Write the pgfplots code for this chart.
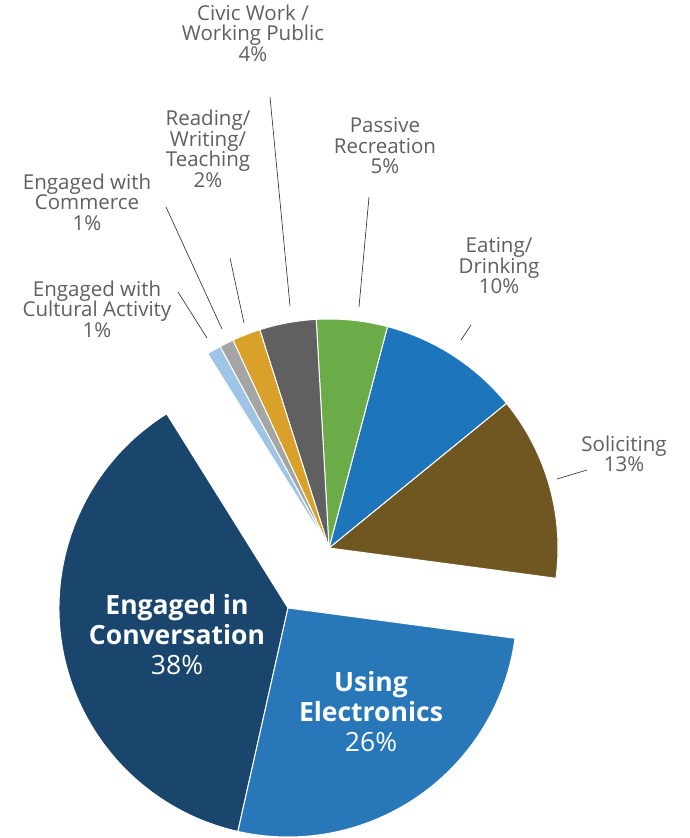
\documentclass[border=0pt]{standalone}
\usepackage{pgfplots}
\pgfplotsset{compat=1.18}
\usepackage{fontspec}
\setmainfont{Open Sans}
\definecolor{cConv}{RGB}{26,70,110}
\definecolor{cElec}{RGB}{40,120,185}
\definecolor{cSol}{RGB}{112,87,34}
\definecolor{cEat}{RGB}{29,117,187}
\definecolor{cPas}{RGB}{107,172,72}
\definecolor{cCiv}{RGB}{96,96,96}
\definecolor{cRea}{RGB}{217,161,42}
\definecolor{cCom}{RGB}{165,165,165}
\definecolor{cCul}{RGB}{158,196,230}
\definecolor{labgray}{RGB}{95,95,95}
% shares in percent
\def\vSol{13}\def\vEat{10}\def\vPas{5}\def\vCiv{4}\def\vRea{2}
\def\vCom{1}\def\vCul{1}\def\vConv{37.6}\def\vElec{26.4}
\pgfmathsetmacro\aZ{-7.6}
\pgfmathsetmacro\aA{\aZ+3.6*\vSol}
\pgfmathsetmacro\aB{\aA+3.6*\vEat}
\pgfmathsetmacro\aC{\aB+3.6*\vPas}
\pgfmathsetmacro\aD{\aC+3.6*\vCiv}
\pgfmathsetmacro\aE{\aD+3.6*\vRea}
\pgfmathsetmacro\aF{\aE+3.6*\vCom}
\pgfmathsetmacro\aG{\aF+3.6*\vCul}
\pgfmathsetmacro\aH{\aG+3.6*\vConv}
\pgfmathsetmacro\aI{\aH+3.6*\vElec}
\newcommand{\lab}{\fontsize{20.5}{20.5}\selectfont}
\newcommand{\blab}{\fontsize{26.5}{30}\selectfont}
\begin{document}
\begin{tikzpicture}
\begin{axis}[
  width=690pt, height=838pt, scale only axis,
  xmin=0, xmax=690, ymin=0, ymax=838,
  hide axis, clip=false]
\coordinate (ll) at (axis cs:0,0);
\coordinate (ur) at (axis cs:690,838);
% main pie, centre (329,290)
\newcommand{\sect}[4]{%
  \fill[#1, draw=white, line width=1pt] #2 -- ++(#3:229pt) arc[start angle=#3, end angle=#4, radius=229pt] -- cycle;}
\sect{cSol}{(axis cs:329,290)}{\aZ}{\aA}
\sect{cEat}{(axis cs:329,290)}{\aA}{\aB}
\sect{cPas}{(axis cs:329,290)}{\aB}{\aC}
\sect{cCiv}{(axis cs:329,290)}{\aC}{\aD}
\sect{cRea}{(axis cs:329,290)}{\aD}{\aE}
\sect{cCom}{(axis cs:329,290)}{\aE}{\aF}
\sect{cCul}{(axis cs:329,290)}{\aF}{\aG}
% exploded group, centre (288,230)
\sect{cConv}{(axis cs:288,230)}{\aG}{\aH}
\sect{cElec}{(axis cs:288,230)}{\aH}{\aI}
% leader lines
\draw[black!85, line width=0.6pt] (axis cs:178,546) -- (axis cs:207,500);
\draw[black!85, line width=0.6pt] (axis cs:166,631) -- (axis cs:222,509);
\draw[black!85, line width=0.6pt] (axis cs:230,580) -- (axis cs:244,515);
\draw[black!85, line width=0.6pt] (axis cs:270,741) -- (axis cs:290,532);
\draw[black!85, line width=0.6pt] (axis cs:369,641) -- (axis cs:359,531);
\draw[black!85, line width=0.6pt] (axis cs:471,513) -- (axis cs:461,498);
\draw[black!85, line width=0.6pt] (axis cs:557,359) -- (axis cs:587,368);
% outside labels
\node[align=center, text=labgray, font=\lab] at (axis cs:97,529) {Engaged with\\Cultural Activity\\1\%};
\node[align=center, text=labgray, font=\lab] at (axis cs:87,636) {Engaged with\\Commerce\\1\%};
\node[align=center, text=labgray, font=\lab] at (axis cs:208,689) {Reading/\\Writing/\\Teaching\\2\%};
\node[align=center, text=labgray, font=\lab] at (axis cs:253,805) {Civic Work /\\Working Public\\4\%};
\node[align=center, text=labgray, font=\lab] at (axis cs:385,692) {Passive\\Recreation\\5\%};
\node[align=center, text=labgray, font=\lab] at (axis cs:499,572) {Eating/\\Drinking\\10\%};
\node[align=center, text=labgray, font=\lab] at (axis cs:624,384) {Soliciting\\13\%};
% inside labels
\node[align=center, text=white, font=\blab] at (axis cs:177,203) {\textbf{Engaged in}\\\textbf{Conversation}\\38\%};
\node[align=center, text=white, font=\blab] at (axis cs:371,126) {\textbf{Using}\\\textbf{Electronics}\\26\%};
\end{axis}
\pgfresetboundingbox
\useasboundingbox (ll) rectangle (ur);
\end{tikzpicture}
\end{document}
